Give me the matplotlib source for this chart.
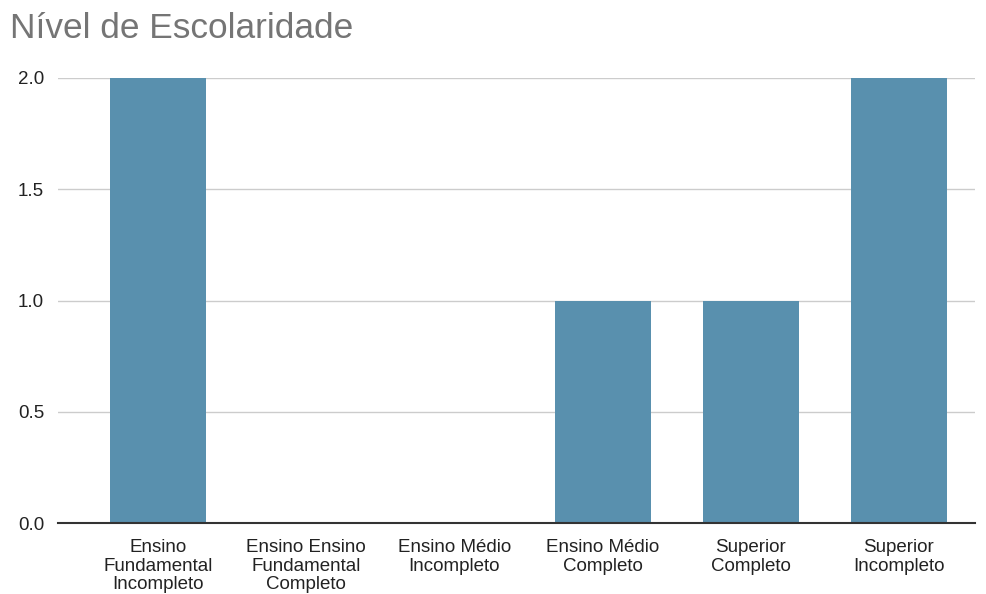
import matplotlib
matplotlib.use("Agg")
import matplotlib.pyplot as plt
import numpy as np

categories = ["Ensino\nFundamental\nIncompleto", "Ensino Ensino\nFundamental\nCompleto",
              "Ensino Médio\nIncompleto", "Ensino Médio\nCompleto",
              "Superior\nCompleto", "Superior\nIncompleto"]
values = [2, 0, 0, 1, 1, 2]
yticks = [0.0, 0.5, 1.0, 1.5, 2.0]

plt.rcParams['font.family'] = ['Liberation Sans', 'DejaVu Sans']

fig = plt.figure(figsize=(9.87, 5.94), dpi=100)
ax = fig.add_axes([58/987, 1-523/594, (975-58)/987, 445/594])

x = np.arange(len(categories))
ax.bar(x, values, width=0.648, color="#5990ae", zorder=3)

ax.set_xlim(-0.675, 5.513)
ax.set_ylim(0, 2)
ax.set_yticks(yticks)
ax.set_yticklabels([f"{v:.1f}" for v in yticks], fontsize=13.5, color="#222222")
ax.set_xticks(x)
ax.set_xticklabels(categories, fontsize=13.5, color="#222222", linespacing=1.13)
ax.tick_params(axis='both', length=0)
ax.tick_params(axis='y', pad=10)
ax.tick_params(axis='x', pad=11.5)
ax.grid(axis='y', color="#cccccc", linewidth=1, zorder=0)
for s in ['top', 'right', 'left']:
    ax.spines[s].set_visible(False)
ax.spines['bottom'].set_color("#333333")
ax.spines['bottom'].set_linewidth(1.5)
ax.spines['bottom'].set_zorder(4)

fig.text(10/987, 1-12/594, "Nível de Escolaridade", fontsize=25.4, color="#757575",
         ha='left', va='top')

fig.savefig("out.png", dpi=100)
